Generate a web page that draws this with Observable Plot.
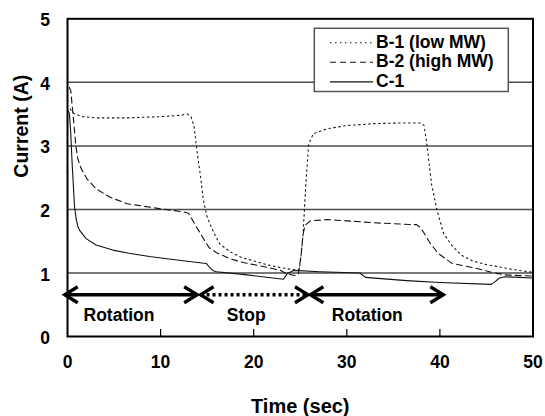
<!DOCTYPE html>
<html>
<head>
<meta charset="utf-8">
<script src="https://cdn.jsdelivr.net/npm/d3@7"></script>
<script src="https://cdn.jsdelivr.net/npm/@observablehq/plot@0.6"></script>
<style>
  html, body { margin: 0; padding: 0; background: white; }
</style>
</head>
<body>
<div id="chart"></div>
<script>
// ---- data ----
const xTicks = [0, 10, 20, 30, 40, 50];
const yTicks = [0, 1, 2, 3, 4, 5];
const gridY = [1, 2, 3, 4];
const innerXTicks = [10, 20, 30, 40];
const seriesNames = ["B-1 (low MW)", "B-2 (high MW)", "C-1"];

// [time (sec), current (A)]
const b1 = [
  [0.3,3.58],[0.5,3.53],[0.8,3.50],[1.6,3.46],[3,3.44],[5,3.44],[6.4,3.44],[8,3.45],[10,3.46],
  [12,3.48],[12.9,3.50],[13.3,3.45],[13.6,3.30],[13.9,2.93],[14.3,2.51],[14.6,2.14],[15.0,1.88],
  [15.5,1.70],[16.0,1.55],[16.4,1.45],[17.5,1.33],[18.6,1.25],[20,1.19],[21.4,1.13],[22.7,1.09],
  [23.9,1.06],[24.8,1.04],[25.0,1.15],[25.3,1.6],[25.6,2.4],[25.9,3.03],[26.4,3.19],[27.9,3.27],
  [30,3.32],[32.9,3.35],[35.7,3.36],[37.9,3.36],[38.3,3.32],[38.6,3.03],[39.1,2.40],[39.7,1.98],
  [40.4,1.62],[41.3,1.43],[42.3,1.28],[43.5,1.19],[45,1.13],[46.6,1.09],[48,1.05],[50,1.01]
];
const b2 = [
  [0.2,3.92],[0.35,3.87],[0.55,3.56],[0.9,3.0],[1.1,2.8],[1.45,2.65],[2.1,2.48],[3.1,2.32],
  [4.6,2.19],[6.4,2.09],[8.2,2.05],[10,2.01],[12.5,1.96],[13.0,1.94],[13.75,1.75],[14.6,1.54],
  [15.2,1.40],[16.0,1.32],[17.5,1.22],[19,1.16],[20.4,1.12],[22,1.07],[22.9,1.04],[23.6,0.98],
  [24.5,0.96],[24.8,0.98],[25.1,1.3],[25.3,1.6],[25.5,1.75],[26.1,1.82],[27.9,1.84],[30,1.82],
  [32.9,1.79],[35.7,1.77],[37.5,1.76],[38.0,1.70],[38.9,1.48],[39.8,1.31],[41.3,1.15],[43.7,1.08],
  [45.6,1.01],[47.0,0.97],[50,0.95]
];
const c1 = [
  [0.1,3.55],[0.2,3.51],[0.35,3.2],[0.5,2.72],[0.75,2.05],[0.93,1.85],[1.1,1.74],[1.3,1.67],
  [2.0,1.54],[3.07,1.44],[4.86,1.36],[6.6,1.31],[8.8,1.26],[10.9,1.22],[13.1,1.18],[14.9,1.15],
  [15.2,1.10],[15.6,1.04],[16,1.02],[19.3,0.97],[23.2,0.90],[23.6,0.99],[24.3,1.04],[27.1,1.02],
  [31.4,1.00],[32.0,0.93],[36.4,0.88],[40,0.85],[45.5,0.82],[45.9,0.86],[46.4,0.92],[47,0.94],[50,0.92]
];

// phase arrows and labels
const phaseNames = ["Rotation", "Stop", "Rotation"];
const arrowStart = [-0.3, 14.29, 26.08];
const arrowEnd = [13.93, 25.83, 40.37];
const arrowLevel = 0.657;
const labelX = [5.53, 19.2, 32.2];
const labelLevel = 0.34;

// ---- build tables ----
const arrows = phaseNames.map((name, i) => ({name, x1: arrowStart[i], x2: arrowEnd[i], y: arrowLevel}));
const labels = phaseNames.map((name, i) => ({name, x: labelX[i], y: labelLevel}));
const ends = arrows.flatMap(a => [{x: a.x1, y: a.y, side: "L"}, {x: a.x2, y: a.y, side: "R"}]);

const chevronRight = {draw(ctx) { ctx.moveTo(-13, -8); ctx.lineTo(0, 0); ctx.lineTo(-13, 8); }};
const chevronLeft = {draw(ctx) { ctx.moveTo(13, -8); ctx.lineTo(0, 0); ctx.lineTo(13, 8); }};

const ink = "#111";
const font = "'Liberation Sans', Arial, Helvetica, sans-serif";
const fmt = d3.format("d");

const chart = Plot.plot({
  width: 545,
  height: 416,
  marginLeft: 67,
  marginRight: 12.5,
  marginTop: 18.3,
  marginBottom: 80,
  style: {fontFamily: font, fontWeight: "bold", background: "white", color: "black"},
  x: {domain: [0, 50]},
  y: {domain: [0, 5]},
  marks: [
    Plot.ruleY(gridY, {stroke: "#4d4d4d", strokeWidth: 1.5}),
    Plot.tickX(innerXTicks, {x: d => d, insetTop: 310.7, stroke: "black", strokeWidth: 1.2}),
    Plot.line(b1, {x: d => d[0], y: d => d[1], stroke: ink, strokeWidth: 1.1, strokeDasharray: "1.5,3.5"}),
    Plot.line(b2, {x: d => d[0], y: d => d[1], stroke: ink, strokeWidth: 1.1, strokeDasharray: "6,4"}),
    Plot.line(c1, {x: d => d[0], y: d => d[1], stroke: ink, strokeWidth: 1.1}),
    Plot.frame({stroke: "black", strokeWidth: 2}),
    Plot.link(arrows.filter(a => a.name !== "Stop"), {x1: "x1", x2: "x2", y1: "y", y2: "y", stroke: "black", strokeWidth: 3.3}),
    Plot.link(arrows.filter(a => a.name === "Stop"), {x1: "x1", x2: "x2", y1: "y", y2: "y", stroke: "black", strokeWidth: 3.3, strokeDasharray: "3,3", insetStart: 3, insetEnd: 3}),
    Plot.dot(ends.filter(e => e.side === "R"), {x: "x", y: "y", symbol: chevronRight, fill: "none", stroke: "black", strokeWidth: 3.3, strokeLinejoin: "miter"}),
    Plot.dot(ends.filter(e => e.side === "L"), {x: "x", y: "y", symbol: chevronLeft, fill: "none", stroke: "black", strokeWidth: 3.3, strokeLinejoin: "miter"}),
    Plot.text(labels, {x: "x", y: "y", text: "name", fontSize: 17.5, fontWeight: "bold", fill: "black", lineAnchor: "middle"}),
    Plot.axisY(yTicks, {tickSize: 0, tickPadding: 17.5, fontSize: 17.5, fontWeight: "bold", dy: 2, tickFormat: fmt, label: null}),
    Plot.axisX(xTicks, {tickSize: 0, tickPadding: 19, fontSize: 17.5, fontWeight: "bold", tickFormat: fmt, label: null}),
    Plot.text(["Time (sec)"], {frameAnchor: "bottom", dy: 70, fontSize: 20, fontWeight: "bold", lineAnchor: "middle", fill: "black"}),
    Plot.text(["Current (A)"], {frameAnchor: "left", dx: -45.3, rotate: -90, fontSize: 19.5, fontWeight: "bold", lineAnchor: "middle", fill: "black"})
  ]
});

// legend box (drawn into the same svg)
const svg = d3.select(chart);
const lg = svg.append("g").attr("font-family", font).attr("font-weight", "bold").attr("text-anchor", "start");
lg.append("rect").attr("x", 314.3).attr("y", 28.3).attr("width", 194).attr("height", 63.2)
  .attr("fill", "white").attr("stroke", "#555").attr("stroke-width", 1.5);
const dashes = ["1.5,3.5", "6,4", null];
seriesNames.forEach((name, i) => {
  const base = 48 + i * 19.3;
  const ly = 42.7 + i * 19.6;
  const ln = lg.append("line").attr("x1", 330).attr("x2", 373).attr("y1", ly).attr("y2", ly)
    .attr("stroke", ink).attr("stroke-width", 1.1);
  if (dashes[i]) ln.attr("stroke-dasharray", dashes[i]);
  lg.append("text").attr("x", 376).attr("y", base).attr("font-size", 17.5).attr("fill", "black")
    .attr("text-anchor", "start").text(name);
});

document.getElementById("chart").appendChild(chart);
</script>
</body>
</html>
